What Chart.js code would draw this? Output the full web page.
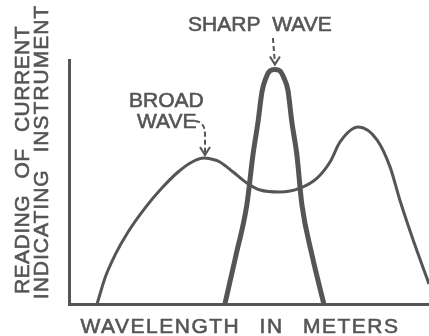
<!DOCTYPE html>
<html lang="en">
<head>
<meta charset="UTF-8">
<title>Broad and sharp wave</title>
<script src="https://cdn.jsdelivr.net/npm/chart.js@4"></script>
<style>
  html, body { margin: 0; padding: 0; background: #fff; }
  canvas { display: block; }
</style>
</head>
<body>
<canvas id="waveChart" width="429" height="336"></canvas>
<script>
// wavelength runs 0..100 across the axis, reading 0..100 up the axis
const broadX = [7.8, 10.0, 12.8, 16.4, 21.1, 25.8, 30.3, 34.2, 37.5, 40.6, 41.9, 45.6, 49.4, 53.1, 58.6, 64.2, 68.9, 72.5, 75.3, 80.3, 85.6, 89.2, 91.9, 95.6, 100];
const broadY = [0, 10.7, 20.1, 29.5, 39.3, 47.5, 54.1, 58.2, 59.8, 59.0, 58.2, 54.1, 49.6, 46.7, 45.9, 47.5, 51.6, 58.2, 66.4, 72.5, 67.2, 56.1, 42.6, 26.2, 8.2];
const sharpX = [43.3, 46.4, 49.4, 51.1, 52.5, 53.6, 54.7, 55.8, 57.2, 58.6, 59.7, 60.8, 61.9, 63.3, 64.7, 67.5, 70.8];
const sharpY = [0, 20.1, 40.6, 61.1, 74.6, 86.9, 92.6, 95.5, 96.1, 95.5, 92.6, 87.7, 74.6, 61.1, 40.6, 20.1, 0];

const xTitle = 'WAVELENGTH IN METERS';
const yTitle = ['READING OF CURRENT', 'INDICATING INSTRUMENT'];
const sharpLabel = 'SHARP WAVE';
const broadLabel = ['BROAD', 'WAVE'];

const ink = '#555';
const textFont = '21px "Liberation Sans", Arial, sans-serif';

const toPoints = (xs, ys) => xs.map((v, i) => ({ x: v, y: ys[i] }));

// highest point of a series between two wavelengths, in pixels
function peakPixel(chart, xs, ys, lo, hi) {
  let k = -1;
  ys.forEach((v, i) => {
    if (xs[i] >= lo && xs[i] <= hi && (k < 0 || v > ys[k])) k = i;
  });
  return { x: chart.scales.x.getPixelForValue(xs[k]), y: chart.scales.y.getPixelForValue(ys[k]) };
}

function arrowHead(ctx, tx, ty) {
  ctx.setLineDash([]);
  ctx.beginPath();
  ctx.moveTo(tx - 5, ty - 8);
  ctx.lineTo(tx, ty);
  ctx.lineTo(tx + 5, ty - 8);
  ctx.stroke();
}

function ink2(ctx, text, x, y) {
  ctx.fillText(text, x, y);
  ctx.strokeText(text, x, y);
}

// titles, callouts and their dashed arrows
const labelPlugin = {
  id: 'labels',
  afterDraw(chart) {
    const ctx = chart.ctx;
    ctx.save();
    ctx.fillStyle = ink;
    ctx.strokeStyle = ink;
    ctx.font = textFont;
    ctx.textBaseline = 'alphabetic';
    ctx.lineWidth = 0.6;

    ctx.textAlign = 'center';
    ctx.letterSpacing = '1.5px';
    ctx.wordSpacing = '12px';
    ink2(ctx, xTitle, 240, 333);

    ctx.letterSpacing = '0.5px';
    ctx.wordSpacing = '10px';
    ctx.save();
    ctx.translate(29, 160);
    ctx.rotate(-Math.PI / 2);
    ink2(ctx, yTitle[0], 0, 0);
    ctx.restore();
    ctx.letterSpacing = '1px';
    ctx.save();
    ctx.translate(48, 152);
    ctx.rotate(-Math.PI / 2);
    ink2(ctx, yTitle[1], 0, 0);
    ctx.restore();

    // sharp wave callout
    const sp = peakPixel(chart, sharpX, sharpY, 0, 100);
    ctx.letterSpacing = '0px';
    ctx.wordSpacing = '6px';
    ink2(ctx, sharpLabel, sp.x - 15, 31);

    // broad wave callout
    const bp = peakPixel(chart, broadX, broadY, 0, 50);
    ctx.textAlign = 'left';
    ink2(ctx, broadLabel[0], 129, 107);
    ink2(ctx, broadLabel[1], 137, 128);

    ctx.lineWidth = 2;
    ctx.setLineDash([5, 3]);
    ctx.beginPath();
    ctx.moveTo(sp.x - 2, 38);
    ctx.lineTo(sp.x, sp.y - 6);
    ctx.stroke();
    arrowHead(ctx, sp.x, sp.y - 5);

    ctx.setLineDash([5, 3]);
    ctx.beginPath();
    ctx.moveTo(bp.x - 9, 121);
    ctx.quadraticCurveTo(bp.x + 1, 122, bp.x + 1, 134);
    ctx.lineTo(bp.x + 1, bp.y - 4);
    ctx.stroke();
    arrowHead(ctx, bp.x + 1, bp.y - 3);

    ctx.restore();
  }
};

new Chart(document.getElementById('waveChart'), {
  type: 'scatter',
  data: {
    datasets: [
      {
        label: 'broad wave',
        data: toPoints(broadX, broadY),
        showLine: true,
        borderColor: ink,
        borderWidth: 3,
        pointRadius: 0,
        cubicInterpolationMode: 'monotone'
      },
      {
        label: 'sharp wave',
        data: toPoints(sharpX, sharpY),
        showLine: true,
        borderColor: ink,
        borderWidth: 5,
        pointRadius: 0,
        cubicInterpolationMode: 'monotone'
      }
    ]
  },
  options: {
    responsive: false,
    animation: false,
    devicePixelRatio: 1,
    events: [],
    layout: { padding: { top: 60, right: 0, left: 0, bottom: 0 } },
    plugins: { legend: { display: false }, tooltip: { enabled: false } },
    scales: {
      x: {
        type: 'linear', min: 0, max: 100,
        grid: { display: false },
        ticks: { display: false },
        border: { color: ink, width: 3 },
        afterFit: (s) => { s.height = 32; }
      },
      y: {
        type: 'linear', min: 0, max: 100,
        grid: { display: false },
        ticks: { display: false },
        border: { color: ink, width: 3 },
        afterFit: (s) => { s.width = 69; }
      }
    }
  },
  plugins: [labelPlugin]
});
</script>
</body>
</html>
